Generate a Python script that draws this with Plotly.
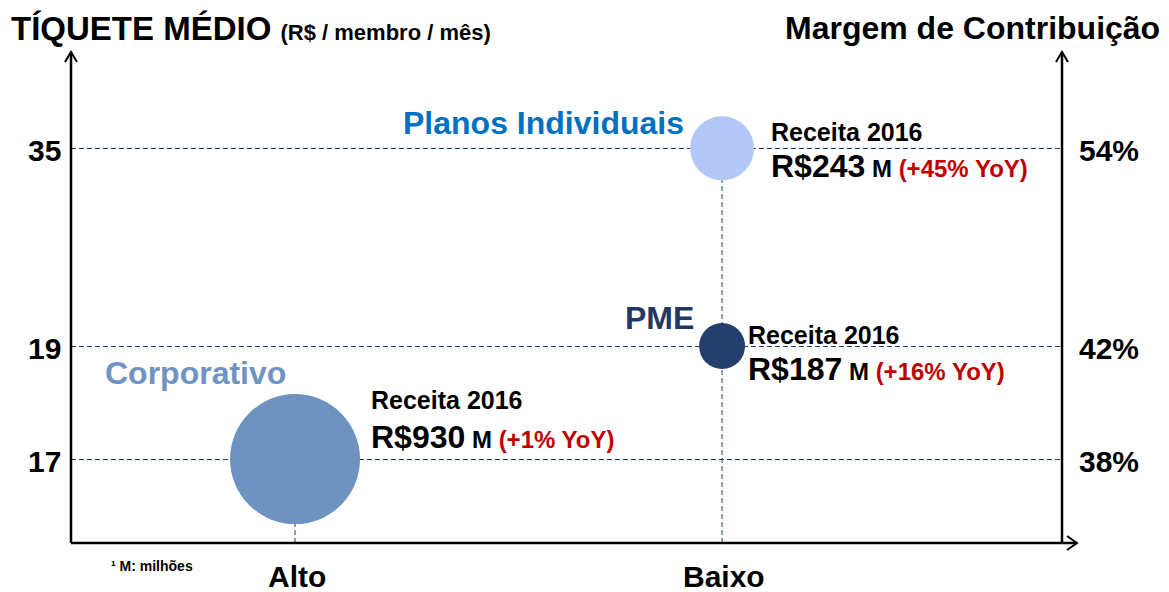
import plotly.graph_objects as go

# ---------------- data ----------------
segments = ["Corporativo", "PME", "Planos Individuais"]
custo = ["Alto", "Baixo", "Baixo"]
ticket = [17, 19, 35]
margem = ["38%", "42%", "54%"]
receita = [930, 187, 243]
yoy = ["+1%", "+16%", "+45%"]
ano = 2016
x_labels = ["Alto", "Baixo"]
y_ticks = [17, 19, 35]
y_title = "TÍQUETE MÉDIO"
y_unit = "(R$ / membro / mês)"
y2_title = "Margem de Contribuição"
footnote = "¹ M: milhões"

# ---------------- style ----------------
FONT = "Liberation Sans, Arial, sans-serif"
bubble_colors = ["#6E93C0", "#243F6E", "#B4C8F8"]
label_colors = ["#6F93C3", "#1F3864", "#0070C0"]
bubble_diam = [130, 46, 64]
y_gaps = [4, 7]          # visual spacing (in steps) between consecutive ticks
GRID = "#1F3864"
RED = "#C00000"

# label offsets (px) relative to each bubble: name label, receita lines
name_shift = [(-7, 86), (-26, 28), (-36, 25)]
rec_xshift = [74, 24, 47]
rec_y1 = [59, 11, 16]
rec_y2 = [22, -23, -18]

# build the ordinal category axis for the ticket values
ycats = []
for i, t in enumerate(y_ticks):
    ycats.append(str(t))
    if i < len(y_gaps):
        ycats += [f"_{i}_{k}" for k in range(1, y_gaps[i])]
yidx = {c: i for i, c in enumerate(ycats)}
xidx = {c: i for i, c in enumerate(x_labels)}
Y_RANGE = [-2.97, 14.41]
X_RANGE = [-0.5246, 1.796]

fig = go.Figure()
fig.add_trace(go.Scatter(
    x=custo, y=[str(t) for t in ticket], mode="markers",
    marker=dict(size=bubble_diam, color=bubble_colors, opacity=1,
                line=dict(width=0)),
    hoverinfo="skip", showlegend=False,
))

shapes = []
# vertical dashed guides from the x axis up to each bubble
for xc, t in [("Alto", 17), ("Baixo", 35)]:
    shapes.append(dict(type="line", xref="x", yref="y",
                       x0=xidx[xc], x1=xidx[xc],
                       y0=Y_RANGE[0], y1=yidx[str(t)],
                       line=dict(color=GRID, width=1, dash="5px,3px"),
                       layer="below"))

AX = dict(color="black", width=2.5)
W, H = 991.0, 491.0
shapes += [
    dict(type="line", xref="paper", yref="paper", x0=0, x1=0, y0=0, y1=1, line=AX),
    dict(type="line", xref="paper", yref="paper", x0=1, x1=1, y0=0, y1=1, line=AX),
    dict(type="line", xref="paper", yref="paper", x0=0, x1=1 + 15 / W, y0=0, y1=0, line=AX),
    dict(type="path", xref="paper", yref="paper",
         path=f"M {-6/W},{1-10/H} L 0,1 L {6/W},{1-10/H}", line=dict(color="black", width=2)),
    dict(type="path", xref="paper", yref="paper",
         path=f"M {1-6/W},{1-10/H} L 1,1 L {1+6/W},{1-10/H}", line=dict(color="black", width=2)),
    dict(type="path", xref="paper", yref="paper",
         path=f"M {1+5/W},{7/H} L {1+15/W},0 L {1+5/W},{-7/H}", line=dict(color="black", width=2)),
]

ann = []
# titles
ann.append(dict(xref="paper", yref="paper", x=-62 / W, y=1 + 24 / H, xanchor="left", yanchor="middle",
                text=f"<b>{y_title}</b> <span style='font-size:22px'><b>{y_unit}</b></span>",
                font=dict(size=33, color="black"), showarrow=False))
ann.append(dict(xref="paper", yref="paper", x=1 + 100 / W, y=1 + 24 / H, xanchor="right", yanchor="middle",
                text=f"<b>{y2_title}</b>", font=dict(size=32, color="black"), showarrow=False))
# y tick labels left / margins right
for t, m in zip(y_ticks, margem):
    ann.append(dict(xref="paper", yref="y", x=-8 / W, y=yidx[str(t)], xanchor="right", yanchor="middle",
                    text=f"<b>{t}</b>", font=dict(size=30, color="black"), showarrow=False, yshift=-2))
    ann.append(dict(xref="paper", yref="y", x=1 + 15 / W, y=yidx[str(t)], xanchor="left", yanchor="middle",
                    text=f"<b>{m}</b>", font=dict(size=30, color="black"), showarrow=False, yshift=-2))
# x labels
for xl in x_labels:
    ann.append(dict(xref="x", yref="paper", x=xidx[xl], y=-33 / H, xanchor="center", yanchor="middle",
                    text=f"<b>{xl}</b>", font=dict(size=30, color="black"), showarrow=False, xshift=2))
ann.append(dict(xref="paper", yref="paper", x=38 / W, y=-23 / H, xanchor="left", yanchor="middle",
                text=f"<b>{footnote}</b>", font=dict(size=14, color="black"), showarrow=False))
# segment labels and revenue
for i, s in enumerate(segments):
    xi, yi = xidx[custo[i]], yidx[str(ticket[i])]
    ann.append(dict(xref="x", yref="y", x=xi, y=yi, xanchor="right",
                    yanchor="middle", xshift=name_shift[i][0], yshift=name_shift[i][1],
                    text=f"<b>{s}</b>", font=dict(size=32, color=label_colors[i]), showarrow=False))
    ann.append(dict(xref="x", yref="y", x=xi, y=yi, xanchor="left",
                    yanchor="middle", xshift=rec_xshift[i], yshift=rec_y1[i],
                    text=f"<b>Receita {ano}</b>", font=dict(size=25, color="black"), showarrow=False))
    ann.append(dict(xref="x", yref="y", x=xi, y=yi, xanchor="left",
                    yanchor="middle", xshift=rec_xshift[i], yshift=rec_y2[i],
                    text=(f"<b>R${receita[i]}</b><span style='font-size:24px'><b> M </b>"
                          f"<span style='color:{RED}'><b>({yoy[i]} YoY)</b></span></span>"),
                    font=dict(size=32, color="black"), showarrow=False))

fig.update_layout(
    width=1169, height=592,
    margin=dict(l=71, r=107, t=52, b=49, pad=0),
    paper_bgcolor="white", plot_bgcolor="white",
    font=dict(family=FONT, color="black"),
    xaxis=dict(type="category", categoryorder="array", categoryarray=x_labels,
               range=X_RANGE, showgrid=False, zeroline=False, showline=False,
               showticklabels=False, ticks=""),
    yaxis=dict(type="category", categoryorder="array", categoryarray=ycats,
               range=Y_RANGE, showgrid=True, gridcolor=GRID, gridwidth=1, griddash="5px,3px",
               tickmode="array", tickvals=[str(t) for t in y_ticks],
               zeroline=False, showline=False, showticklabels=False, ticks=""),
    shapes=shapes, annotations=ann,
)

fig.write_html("out.html", config={"displayModeBar": False},
               post_script="document.body.style.margin='0';")
